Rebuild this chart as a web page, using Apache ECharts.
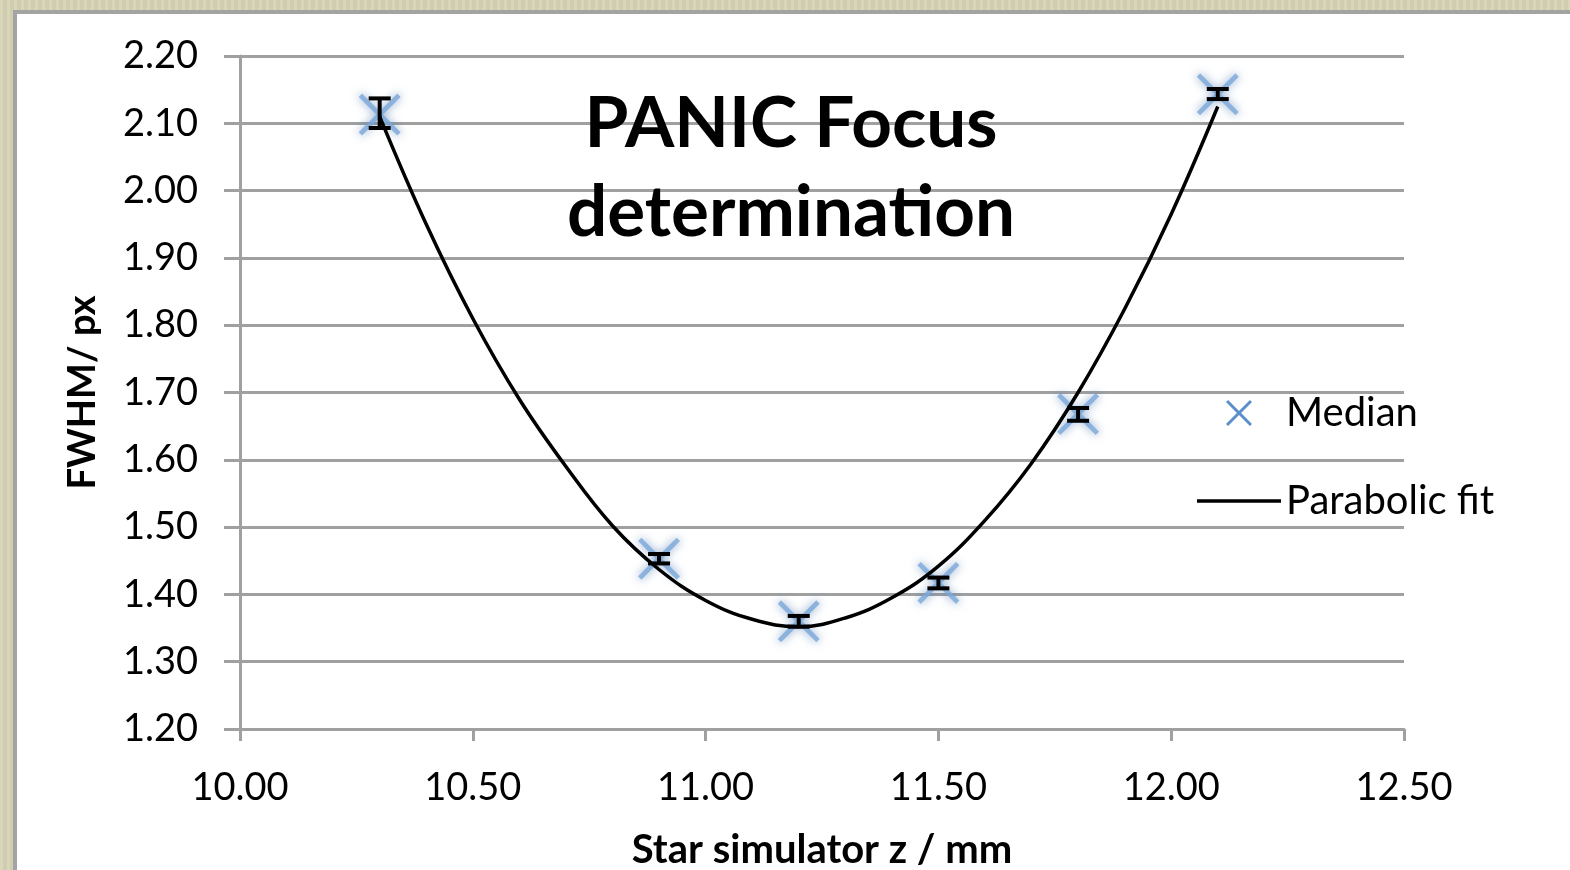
<!DOCTYPE html>
<html>
<head>
<meta charset="utf-8">
<script src="https://cdn.jsdelivr.net/npm/echarts@6/dist/echarts.min.js"></script>
<style>
  html, body { margin: 0; padding: 0; width: 1570px; height: 870px; overflow: hidden;
    background: #d6d3b5;
    background-image: repeating-linear-gradient(90deg, rgba(255,255,255,0.08) 0px, rgba(255,255,255,0.08) 3px, rgba(0,0,0,0.03) 3px, rgba(0,0,0,0.03) 7px);
  }
  #panel { position: absolute; left: 13px; top: 10px; width: 1600px; height: 900px;
    background: #fff; border-top: 4px solid #a3a3a3; border-left: 4px solid #a3a3a3; }
  #chart { position: absolute; left: 0; top: 0; width: 1570px; height: 870px; }
</style>
</head>
<body>
<div id="panel"></div>
<div id="chart"></div>
<script>
// Measured medians with error bars
const medianX   = [10.30, 10.90, 11.20, 11.50, 11.80, 12.10];
const medianY   = [2.113, 1.453, 1.360, 1.417, 1.668, 2.143];
const errLow    = [2.093, 1.446, 1.352, 1.409, 1.658, 2.136];
const errHigh   = [2.137, 1.460, 1.368, 1.425, 1.677, 2.151];

// Parabolic fit curve
const fitX = [10.3, 10.4, 10.5, 10.6, 10.7, 10.8, 10.9, 11.0, 11.1, 11.2, 11.3, 11.4, 11.5, 11.6, 11.7, 11.8, 11.9, 12.0, 12.1];
const fitY = [2.110, 1.950, 1.810, 1.690, 1.590, 1.502, 1.437, 1.391, 1.363, 1.352, 1.365, 1.395, 1.442, 1.510, 1.595, 1.700, 1.824, 1.965, 2.125];

// Axis ticks
const xTicks = { min: 10.0, max: 12.5, interval: 0.5 };
const yTicks = { min: 1.2, max: 2.2, interval: 0.1 };

const titleLines = ['PANIC Focus', 'determination'];
const xName = 'Star simulator z / mm';
const yName = 'FWHM/ px';

const FONT = 'Lato, "Open Sans", sans-serif';
const GRAY = '#a0a0a0';
const XPATH = 'path://M8,0 L50,42 L92,0 L100,8 L58,50 L100,92 L92,100 L50,58 L8,100 L0,92 L42,50 L0,8 Z';

const chart = echarts.init(document.getElementById('chart'), null, { renderer: 'canvas' });

const option = {
  backgroundColor: 'transparent',
  animation: false,
  grid: { left: 240, right: 166, top: 56, bottom: 141, containLabel: false, outerBoundsMode: 'none' },
  graphic: [{
    type: 'text', x: 791, y: 80,
    style: {
      text: titleLines.join('\n'), fontFamily: FONT, fontWeight: 'bold', fontSize: 71,
      lineHeight: 89, align: 'center', verticalAlign: 'top', fill: '#000'
    },
    z: 10
  }],
  legend: {
    orient: 'vertical', left: 1192, top: 388,
    itemWidth: 84, itemHeight: 26, itemGap: 48,
    textStyle: { fontFamily: FONT, fontSize: 40, color: '#000', lineHeight: 26 },
    data: [
      { name: 'Median', icon: XPATH, itemStyle: { color: '#5a8fcb', shadowBlur: 0, opacity: 1 } },
      { name: 'Parabolic fit', icon: 'path://M0,0 L84,0 L84,3.5 L0,3.5 Z', itemStyle: { color: '#000' } }
    ]
  },
  xAxis: {
    type: 'value', min: xTicks.min, max: xTicks.max, interval: xTicks.interval,
    name: xName, nameLocation: 'middle', nameGap: 101,
    nameTextStyle: { fontFamily: FONT, fontSize: 40, fontWeight: 'bold', color: '#000' },
    axisLine: { show: true, lineStyle: { color: GRAY, width: 3 } },
    axisTick: { show: true, length: 12, lineStyle: { color: GRAY, width: 3 } },
    axisLabel: { margin: 40, fontFamily: FONT, fontSize: 38, color: '#000',
      formatter: v => v.toFixed(2) },
    splitLine: { show: false }
  },
  yAxis: {
    type: 'value', min: yTicks.min, max: yTicks.max, interval: yTicks.interval,
    name: yName, nameLocation: 'middle', nameGap: 138,
    nameTextStyle: { fontFamily: FONT, fontSize: 38, fontWeight: 'bold', color: '#000' },
    axisLine: { show: true, lineStyle: { color: GRAY, width: 3 } },
    axisTick: { show: true, length: 16, lineStyle: { color: GRAY, width: 3 } },
    axisLabel: { margin: 42, fontFamily: FONT, fontSize: 38, color: '#000',
      formatter: v => v.toFixed(2) },
    splitLine: { show: true, lineStyle: { color: GRAY, width: 3 } }
  },
  series: [
    {
      name: 'Median', type: 'scatter', symbol: XPATH, symbolSize: 42,
      data: medianX.map((x, i) => [x, medianY[i]]),
      itemStyle: { color: '#7aa7da', opacity: 0.8, shadowBlur: 10, shadowColor: 'rgba(60,110,170,0.8)' },
      z: 2
    },
    {
      name: 'Parabolic fit', type: 'line', smooth: 0.4, showSymbol: false, symbol: 'none',
      data: fitX.map((x, i) => [x, fitY[i]]),
      lineStyle: { color: '#000', width: 3.5 },
      itemStyle: { color: '#000' },
      z: 3
    },
    {
      name: 'errors', type: 'custom',
      data: medianX.map((x, i) => [x, errLow[i], errHigh[i]]),
      renderItem: (params, api) => {
        const x = api.value(0);
        const lo = api.coord([x, api.value(1)]);
        const hi = api.coord([x, api.value(2)]);
        const hw = 11;
        const st = { stroke: '#000', lineWidth: 4 };
        return {
          type: 'group',
          children: [
            { type: 'line', shape: { x1: lo[0], y1: lo[1], x2: hi[0], y2: hi[1] }, style: st },
            { type: 'line', shape: { x1: lo[0] - hw, y1: lo[1], x2: lo[0] + hw, y2: lo[1] }, style: st },
            { type: 'line', shape: { x1: hi[0] - hw, y1: hi[1], x2: hi[0] + hw, y2: hi[1] }, style: st }
          ]
        };
      },
      z: 4
    }
  ]
};
chart.setOption(option);
</script>
</body>
</html>
